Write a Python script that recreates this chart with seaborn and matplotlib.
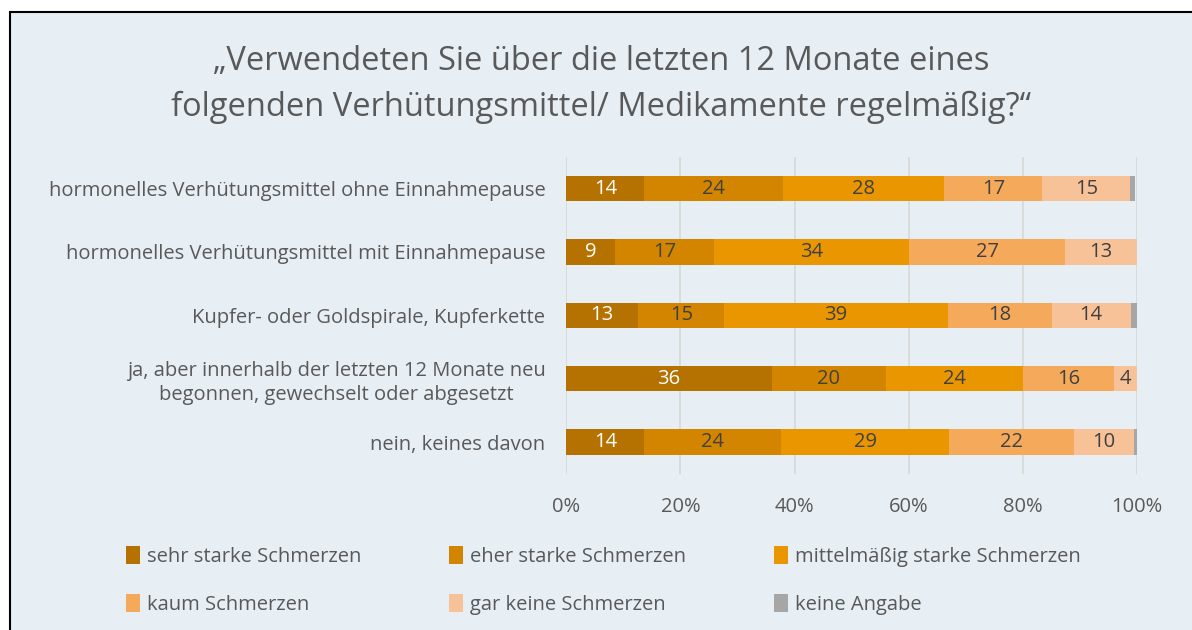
import numpy as np
import pandas as pd
import matplotlib
matplotlib.use("Agg")
import matplotlib.pyplot as plt
from matplotlib.patches import Rectangle, Patch
import seaborn as sns

categories = [
    "hormonelles Verhütungsmittel ohne Einnahmepause",
    "hormonelles Verhütungsmittel mit Einnahmepause",
    "Kupfer- oder Goldspirale, Kupferkette",
    "ja, aber innerhalb der letzten 12 Monate neu\nbegonnen, gewechselt oder abgesetzt",
    "nein, keines davon",
]
series_names = ["sehr starke Schmerzen", "eher starke Schmerzen", "mittelmäßig starke Schmerzen",
                "kaum Schmerzen", "gar keine Schmerzen", "keine Angabe"]
sehr_stark = [13.7, 8.6, 12.6, 36.0, 13.7]
eher_stark = [24.2, 17.2, 15.1, 20.0, 24.0]
mittel = [28.3, 34.3, 39.1, 24.0, 29.4]
kaum = [17.2, 27.3, 18.2, 16.0, 21.9]
gar_keine = [15.4, 12.6, 13.9, 4.0, 10.4]
keine_angabe = [0.9, 0.0, 1.3, 0.0, 0.5]
xticks = [0, 20, 40, 60, 80, 100]

colors = ["#B57200", "#D38500", "#EA9600", "#F5A95B", "#F8C298", "#A6A6A6"]
label_colors = ["white", "#404040", "#404040", "#404040", "#404040", None]
bg = "#E7EEF4"
txt = "#595959"

sns.set_theme(style="white")
plt.rcParams["font.family"] = ["Open Sans", "DejaVu Sans"]

values = np.array([sehr_stark, eher_stark, mittel, kaum, gar_keine, keine_angabe])
cum = values.cumsum(axis=0)

fig = plt.figure(figsize=(11.92, 6.3), dpi=100, facecolor="white")
fig.patches.append(Rectangle((10 / 1192, -0.05), 1.1, 1 - 12 / 630 + 0.05, transform=fig.transFigure,
                             facecolor=bg, edgecolor="black", linewidth=1.5, zorder=-10))
ax = fig.add_axes([0.475, 0.248, 0.479, 0.503])
ax.set_facecolor(bg)
ax.patch.set_alpha(0)

# overdraw cumulative totals, largest first
for i in reversed(range(len(series_names))):
    df = pd.DataFrame({"cat": categories, "val": cum[i]})
    sns.barplot(data=df, x="val", y="cat", order=categories, color=colors[i],
                saturation=1, width=0.4, ax=ax, zorder=3, linewidth=0)

for i in range(len(series_names)):
    if label_colors[i] is None:
        continue
    for j in range(len(categories)):
        v = values[i, j]
        if v < 1:
            continue
        ax.text(cum[i, j] - v / 2, j, f"{v:.0f}", ha="center", va="center",
                color=label_colors[i], fontsize=14.5, zorder=5)

ax.set_xlim(0, 100)
ax.set_xticks(xticks)
ax.set_xticklabels([f"{t}%" for t in xticks])
ax.xaxis.grid(True, color="#D9D9D9", linewidth=1.3, zorder=0)
ax.set_axisbelow(True)
ax.set_xlabel("")
ax.set_ylabel("")
for s in ax.spines.values():
    s.set_visible(False)
ax.tick_params(axis="x", colors=txt, labelsize=14.5, length=0, pad=17)
ax.tick_params(axis="y", colors=txt, labelsize=14.5, length=0, pad=15)
for lbl in ax.get_yticklabels():
    lbl.set_horizontalalignment("right")
    lbl.set_multialignment("center")
    lbl.set_linespacing(1.25)

fig.text(0.504, 0.903, "„Verwendeten Sie über die letzten 12 Monate eines", ha="center", va="center",
         fontsize=23.5, color=txt)
fig.text(0.504, 0.83, "folgenden Verhütungsmittel/ Medikamente regelmäßig?“", ha="center", va="center",
         fontsize=23.5, color=txt)

col_x = [126 / 1192, 449 / 1192, 774 / 1192]
for c in range(3):
    handles = [Patch(facecolor=colors[c], edgecolor="none"), Patch(facecolor=colors[c + 3], edgecolor="none")]
    names = [series_names[c], series_names[c + 3]]
    leg = fig.legend(handles, names, loc="upper left", bbox_to_anchor=(col_x[c], 1 - 546 / 630), frameon=False,
                     fontsize=14.5, handlelength=0.7, handleheight=1.0, handletextpad=0.35, labelspacing=1.35,
                     borderaxespad=0, borderpad=0)
    for t in leg.get_texts():
        t.set_color(txt)

fig.savefig("out.png", dpi=100, facecolor=fig.get_facecolor())
